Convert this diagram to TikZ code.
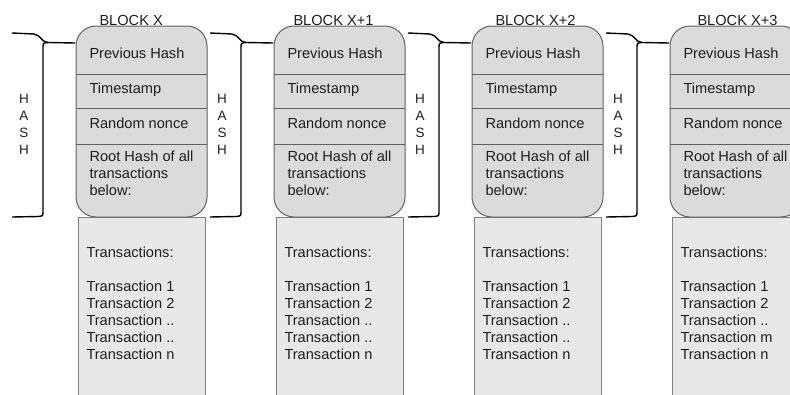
\documentclass[tikz,border=0pt]{standalone}
\usepackage{fontspec}
\setmainfont{Liberation Sans}

\begin{document}
\begin{tikzpicture}[x = 1pt, y = -1pt, line width = 1pt,
                        header/.style = {draw = black!62, fill = black!14, rounded corners = 20pt},
                        txbox/.style = {draw = black!50, fill = black!9},
                        sep/.style = {draw = black!62},
                        brace/.style = {line width = 1.4pt, black},
                        field/.style = {anchor = base west, inner sep = 0pt, align = left, text = black!88,
                                        font = \fontsize{14.6}{17}\selectfont},
                        hashlbl/.style = {inner sep = 0pt, align = center, text = black!88,
                                          font = \fontsize{13.5}{17}\selectfont},
                        title/.style = {anchor = base west, inner sep = 0pt, text = black!88,
                                        font = \fontsize{14.6}{17}\selectfont}]
      \clip (0, 0) rectangle (790, 394);
      \fill [white] (0, 0) rectangle (790, 394);
      \foreach \L/\name/\dx/\tfour [count = \i] in {76/X/23/.., 274/X+1/19/.., 472/X+2/23/.., 670/X+3/27/m} {
        % transaction list under the header (base is the last line)
        \draw [txbox] (\L + 2, 217) rectangle (\L + 129, 400);
        \node [field] (tx\i) at (\L + 10, 359) {Transactions:\\[17pt]Transaction 1\\Transaction 2\\Transaction ..\\Transaction \tfour\\Transaction n};
        % header with its four fields
        \draw [header] (\L, 26) rectangle (\L + 131, 217);
        \draw [sep] (\L, 74) -- (\L + 131, 74);
        \draw [sep] (\L, 108.5) -- (\L + 131, 108.5);
        \draw [sep] (\L, 144.5) -- (\L + 131, 144.5);
        \node [field] (prev\i) at (\L + 13, 58) {Previous Hash};
        \node [field] (time\i) at (\L + 13, 93) {Timestamp};
        \node [field] (nonce\i) at (\L + 13, 128) {Random nonce};
        \node [field] (root\i) at (\L + 13, 195) {Root Hash of all\\transactions\\below:};
        \node [title] (title\i) at (\L + \dx, 25) {BLOCK \name};
        % brace over the previous block, pointing at this one
        \coordinate (tip\i) at (\L - 1, 43);
        \draw [brace] (\L - 64, 33) -- (\L - 42, 34) .. controls (\L - 35, 35) and (\L - 35, 42) .. (\L - 28, 42.5) -- (tip\i);
        \draw [brace] (\L - 28, 42.5) .. controls (\L - 33, 43) .. (\L - 33, 48) -- (\L - 33, 211)
                      .. controls (\L - 33, 216) .. (\L - 38, 216.5) -- (\L - 64, 217);
        \node [hashlbl] (hash\i) at (\L - 52, 124) {H\\A\\S\\H};
      }
    \end{tikzpicture}
\end{document}
